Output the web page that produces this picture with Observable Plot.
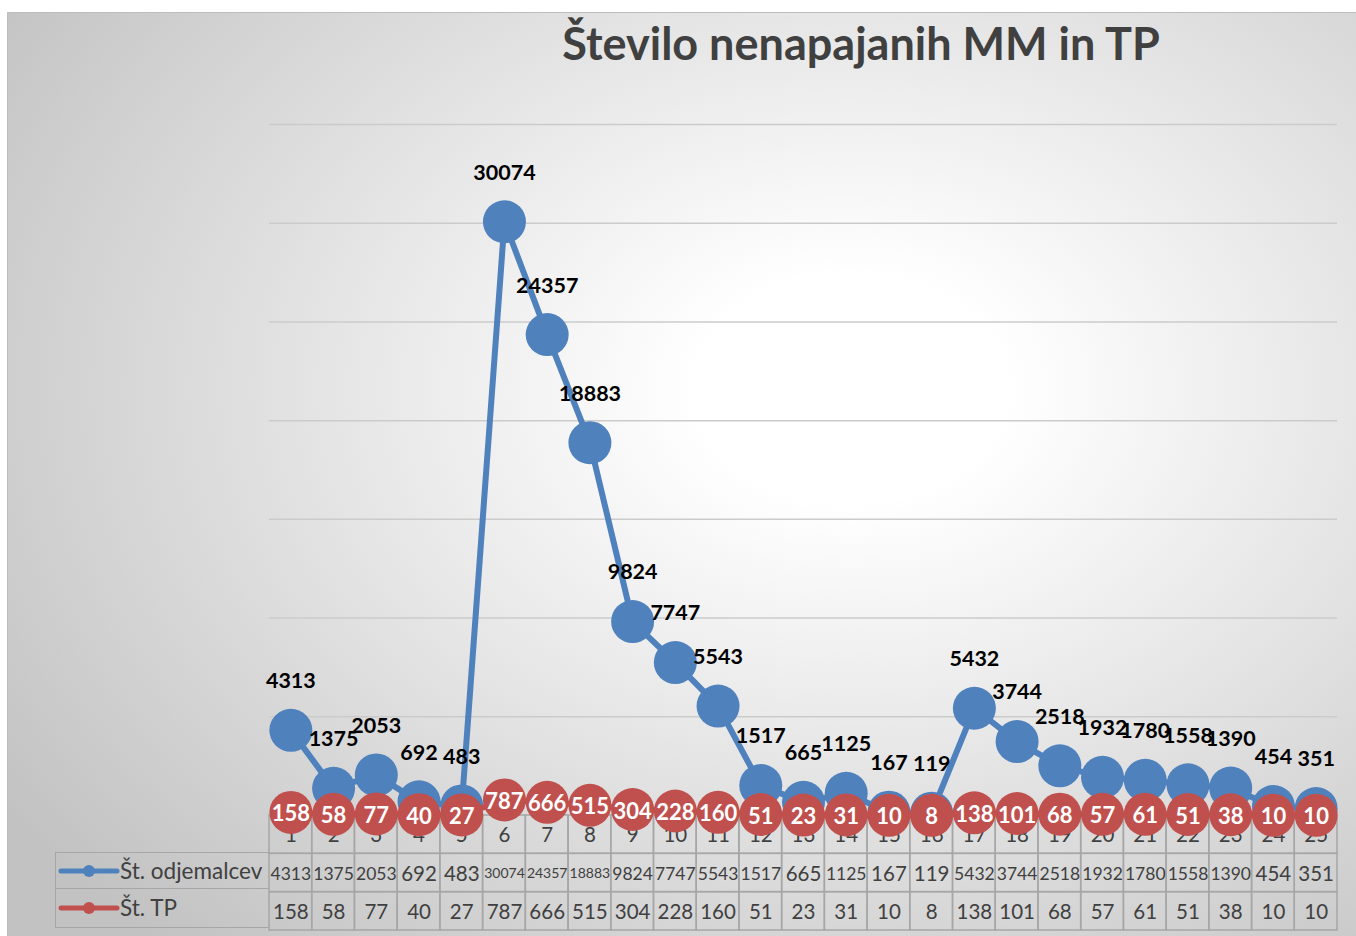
<!DOCTYPE html>
<html>
<head>
<meta charset="utf-8">
<script src="https://cdn.jsdelivr.net/npm/d3@7"></script>
<script src="https://cdn.jsdelivr.net/npm/@observablehq/plot@0.6"></script>
<style>
  html, body { margin: 0; padding: 0; background: #ffffff; }
  #page { position: relative; width: 1356px; height: 936px; overflow: hidden; font-family: Lato, "Noto Sans", sans-serif; }
  #frame { position: absolute; left: 7px; top: 12px; width: 1360px; height: 940px; border: 1px solid #bdbdbd;
    background: radial-gradient(ellipse 75% 80% at 62% 40%, #ffffff 0%, #ffffff 15%, #c2c2c2 100%); }
  #title { position: absolute; left: 0; width: 1722px; top: 16px; text-align: center; font-size: 45px; font-weight: bold; color: #404040; }
  #table { position: absolute; left: 0; top: 814px; z-index: 1; }
  #chart { position: absolute; left: 0; top: 0; z-index: 2; }
  #legend { position: absolute; left: 55px; top: 852px; width: 214px; z-index: 1; }
  .lrow { position: relative; height: 37px; border: 1.5px solid #a6a6a6; border-right: none; box-sizing: border-box; font-size: 22.5px; color: #404040; display: flex; align-items: center; }
  .lrow + .lrow { border-top: none; height: 38.5px; }
  .lrow svg { margin-left: 4px; margin-right: 2px; }
  svg { overflow: visible; }
</style>
</head>
<body>
<div id="page">
  <div id="frame"></div>
  <div id="title">Število nenapajanih MM in TP</div>
  <div id="table"></div>
  <div id="legend"></div>
  <div id="chart"></div>
</div>
<script>
// ---- data ----
const categories = [1, 2, 3, 4, 5, 6, 7, 8, 9, 10, 11, 12, 13, 14, 15, 16, 17, 18, 19, 20, 21, 22, 23, 24, 25];
const customers = [4313, 1375, 2053, 692, 483, 30074, 24357, 18883, 9824, 7747, 5543, 1517, 665, 1125, 167, 119, 5432, 3744, 2518, 1932, 1780, 1558, 1390, 454, 351];
const tps = [158, 58, 77, 40, 27, 787, 666, 515, 304, 228, 160, 51, 23, 31, 10, 8, 138, 101, 68, 57, 61, 51, 38, 10, 10];
const yTicks = [5000, 10000, 15000, 20000, 25000, 30000, 35000];
const seriesNames = ["Št. odjemalcev", "Št. TP"];
const seriesColors = ["#4f81bd", "#c0504d"];

const data = categories.map((c, i) => ({cat: c, cust: customers[i], tp: tps[i]}));

// ---- main chart ----
const chart = Plot.plot({
  width: 1356,
  height: 850,
  marginLeft: 269,
  marginRight: 19,
  marginTop: 124,
  marginBottom: 35,
  style: {background: "transparent", overflow: "visible"},
  x: {type: "point", domain: categories, padding: 0.5, round: false, axis: null},
  y: {type: "linear", domain: [0, 35000], axis: null},
  marks: [
    Plot.gridY(yTicks, {stroke: "#cbcbcb", strokeOpacity: 1, strokeWidth: 1.5}),
    Plot.line(data, {x: "cat", y: "cust", stroke: seriesColors[0], strokeWidth: 6}),
    Plot.dot(data, {x: "cat", y: "cust", r: 21.5, fill: seriesColors[0], stroke: "none"}),
    Plot.line(data, {x: "cat", y: "tp", stroke: seriesColors[1], strokeWidth: 6}),
    Plot.dot(data, {x: "cat", y: "tp", r: 21.5, fill: seriesColors[1], stroke: "none"}),
    Plot.text(data, {x: "cat", y: "tp", text: d => String(d.tp), fill: "white", fontSize: 22, fontWeight: "bold", fontFamily: "Lato", dy: 2}),
    Plot.text(data, {x: "cat", y: "cust", text: d => String(d.cust), fill: "black", fontSize: 21.5, fontWeight: "bold", fontFamily: "Lato", dy: -49})
  ]
});
document.getElementById("chart").appendChild(chart);

// ---- data table ----
const rows = ["hdr", "cust", "tp"];
const cells = [];
categories.forEach((c, i) => {
  cells.push({cat: c, row: "hdr", label: String(c)});
  cells.push({cat: c, row: "cust", label: String(customers[i])});
  cells.push({cat: c, row: "tp", label: String(tps[i])});
});
const table = Plot.plot({
  width: 1356,
  height: 117,
  marginLeft: 269,
  marginRight: 19,
  marginTop: 1,
  marginBottom: 1,
  style: {background: "transparent", overflow: "visible"},
  x: {type: "band", domain: categories, padding: 0, round: false, axis: null},
  y: {type: "band", domain: rows, padding: 0, round: false, axis: null},
  marks: [
    Plot.cell(cells, {x: "cat", y: "row", fill: "none", stroke: "#a6a6a6", strokeWidth: 1.5}),
    Plot.text(cells, {x: "cat", y: "row", text: "label", fill: "#404040",
      fontSize: d => d.label.length >= 5 ? 14 : (d.label.length === 4 ? 17.5 : 20.5),
      fontFamily: "Lato", dy: 1})
  ]
});
document.getElementById("table").appendChild(table);

// ---- legend (table row headers) ----
const legend = document.getElementById("legend");
seriesNames.forEach((name, i) => {
  const row = document.createElement("div");
  row.className = "lrow";
  row.innerHTML = `<svg width="58" height="14" viewBox="0 0 58 14"><line x1="1" y1="7" x2="57" y2="7" stroke="${seriesColors[i]}" stroke-width="5" stroke-linecap="round"/><circle cx="29" cy="7" r="6" fill="${seriesColors[i]}"/></svg><span>${name}</span>`;
  legend.appendChild(row);
});
</script>
</body>
</html>
